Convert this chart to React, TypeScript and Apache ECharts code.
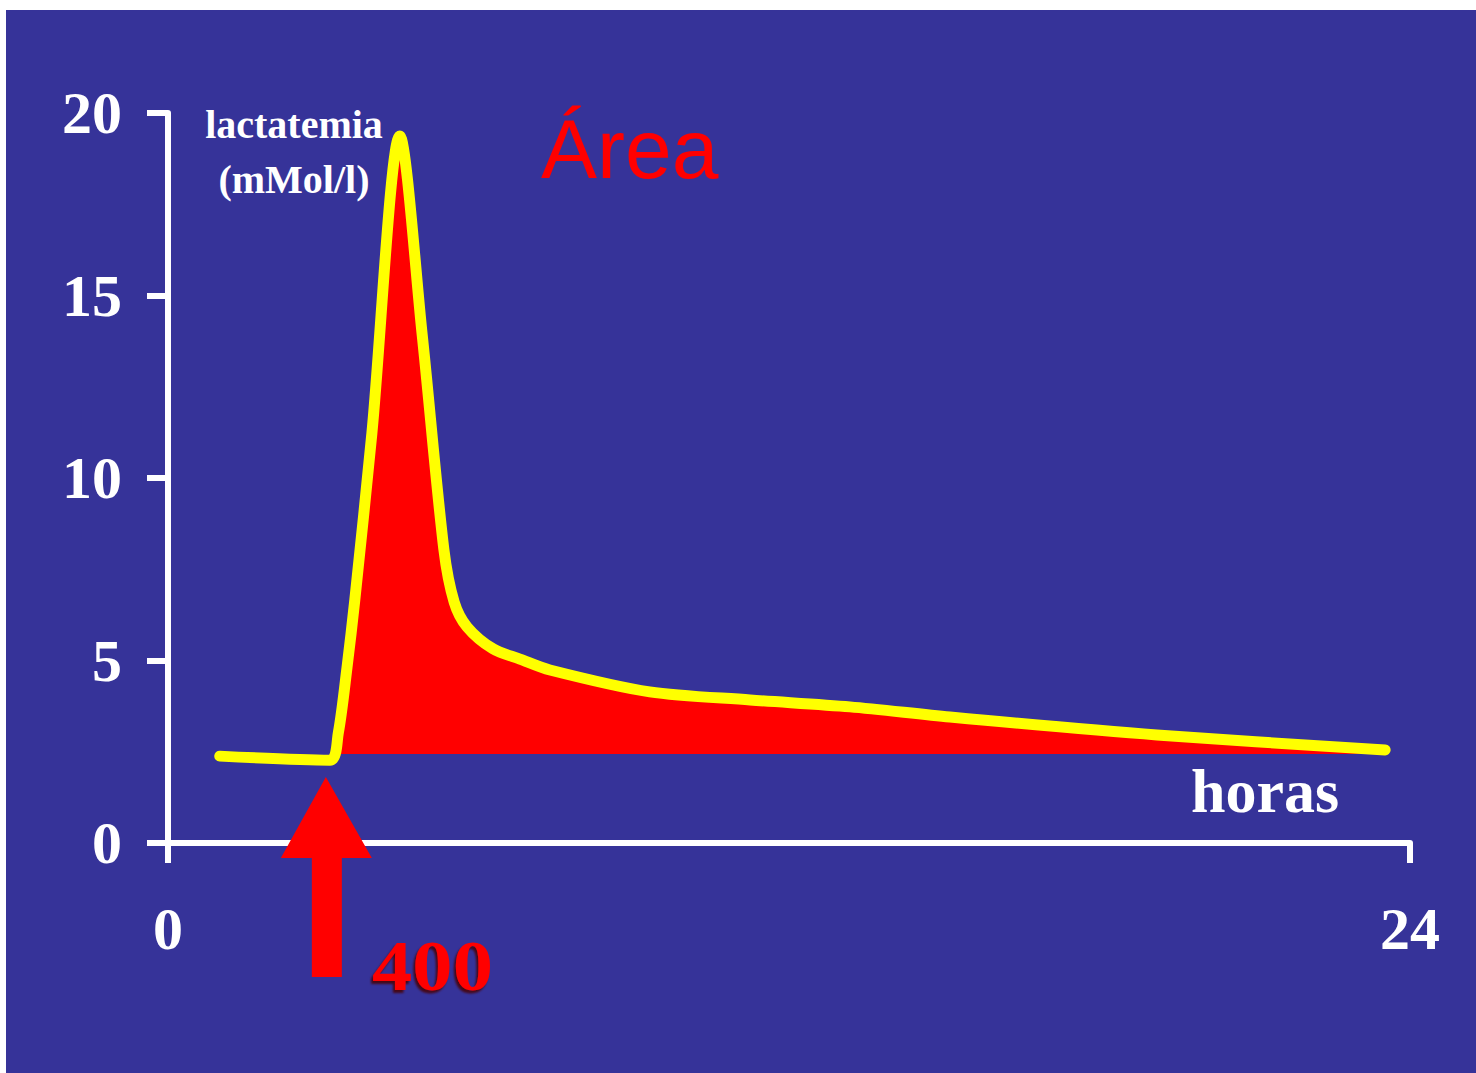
import React, { useEffect, useRef } from "react";
import * as echarts from "echarts";

// time (hours) and blood lactate (mMol/l)
const hours = [1.0, 3.13, 3.29, 3.46, 3.61, 3.94, 4.48, 4.91, 5.33, 5.53, 5.78, 6.28, 6.8, 7.38, 9.31, 11.25, 13.18, 15.11, 19.11, 23.52];
const lactate = [2.38, 2.27, 3.01, 4.82, 6.66, 11.23, 19.37, 13.95, 8.05, 6.6, 5.92, 5.32, 5.04, 4.74, 4.14, 3.92, 3.73, 3.45, 2.96, 2.55];
const baselineLactate = 2.44;
const yMin = 0;
const yMax = 20;
const yStep = 5;
const xMin = 0;
const xMax = 24;
const doseHour = 3.05;
const doseLabel = "400";
const yTitle = ["lactatemia", "(mMol/l)"];
const xTitle = "horas";
const areaTitle = "Área";

const BLUE = "#363399";
const WHITE = "#ffffff";
const YELLOW = "#ffff00";
const RED = "#ff0000";
const SERIF = "'Liberation Serif', 'Times New Roman', serif";
const SANS = "'Liberation Sans', Arial, sans-serif";
const SMOOTH = 0.3;

export default function App() {
  const ref = useRef<HTMLDivElement>(null);
  useEffect(() => {
    const chart = echarts.init(ref.current!, null, { renderer: "svg" });
    const curve = hours.map((h, i) => [h, lactate[i]]);
    const fill = curve.slice(1);
    chart.setOption({
      animation: false,
      backgroundColor: WHITE,
      grid: { left: 168, right: 66, top: 113, bottom: 230 },
      xAxis: {
        type: "value",
        min: xMin,
        max: xMax,
        interval: xMax - xMin,
        axisLine: { show: true, lineStyle: { color: WHITE, width: 6 } },
        axisTick: { show: true, length: 20, lineStyle: { color: WHITE, width: 6 } },
        axisLabel: {
          margin: 56,
          color: WHITE,
          fontFamily: SERIF,
          fontWeight: "bold",
          fontSize: 60,
        },
        splitLine: { show: false },
      },
      yAxis: {
        type: "value",
        min: yMin,
        max: yMax,
        interval: yStep,
        axisLine: { show: true, lineStyle: { color: WHITE, width: 6 } },
        axisTick: { show: true, length: 21, lineStyle: { color: WHITE, width: 6 } },
        axisLabel: {
          margin: 46,
          color: WHITE,
          fontFamily: SERIF,
          fontWeight: "bold",
          fontSize: 60,
        },
        splitLine: { show: false },
      },
      series: [
        {
          type: "line",
          data: fill,
          symbol: "none",
          smooth: SMOOTH,
          lineStyle: { width: 0, opacity: 0 },
          areaStyle: { color: RED, opacity: 1, origin: baselineLactate },
          z: 2,
          silent: true,
        },
        {
          type: "line",
          data: curve,
          symbol: "none",
          smooth: SMOOTH,
          lineStyle: { color: YELLOW, width: 11, cap: "round", join: "round" },
          z: 3,
          silent: true,
        },
      ],
    });
    const tip = chart.convertToPixel({ gridIndex: 0 }, [doseHour, 0]) as number[];
    const ax = tip[0];
    chart.setOption({
      graphic: [
        { type: "rect", z: -100, shape: { x: 6, y: 10, width: 1476, height: 1073 }, style: { fill: BLUE } },
        {
          type: "polygon",
          z: 50,
          shape: {
            points: [
              [ax, 777],
              [ax + 46, 858],
              [ax + 16, 858],
              [ax + 16, 977],
              [ax - 14, 977],
              [ax - 14, 858],
              [ax - 45, 858],
            ],
          },
          style: { fill: RED },
        },
        {
          type: "text",
          z: 50,
          x: 372,
          y: 966,
          scaleX: 1.12,
          style: {
            text: doseLabel,
            fill: RED,
            font: `bold 72px ${SERIF}`,
            textAlign: "left",
            textVerticalAlign: "middle",
            textShadowColor: "rgba(70,0,0,0.85)",
            textShadowOffsetX: -2,
            textShadowOffsetY: 3,
            textShadowBlur: 2,
          },
        },
        {
          type: "text",
          z: 50,
          x: 294,
          y: 124,
          style: { text: yTitle[0], fill: WHITE, font: `bold 40px ${SERIF}`, textAlign: "center", textVerticalAlign: "middle" },
        },
        {
          type: "text",
          z: 50,
          x: 294,
          y: 179,
          style: { text: yTitle[1], fill: WHITE, font: `bold 40px ${SERIF}`, textAlign: "center", textVerticalAlign: "middle" },
        },
        {
          type: "text",
          z: 50,
          x: 1265,
          y: 791,
          style: { text: xTitle, fill: WHITE, font: `bold 62px ${SERIF}`, textAlign: "center", textVerticalAlign: "middle" },
        },
        {
          type: "text",
          z: 50,
          x: 541,
          y: 149,
          style: { text: areaTitle, fill: RED, font: `84px ${SANS}`, textAlign: "left", textVerticalAlign: "middle" },
        },
      ],
    });
    return () => chart.dispose();
  }, []);
  return <div ref={ref} style={{ position: "absolute", left: 0, top: 0, width: 1476, height: 1073 }} />;
}
